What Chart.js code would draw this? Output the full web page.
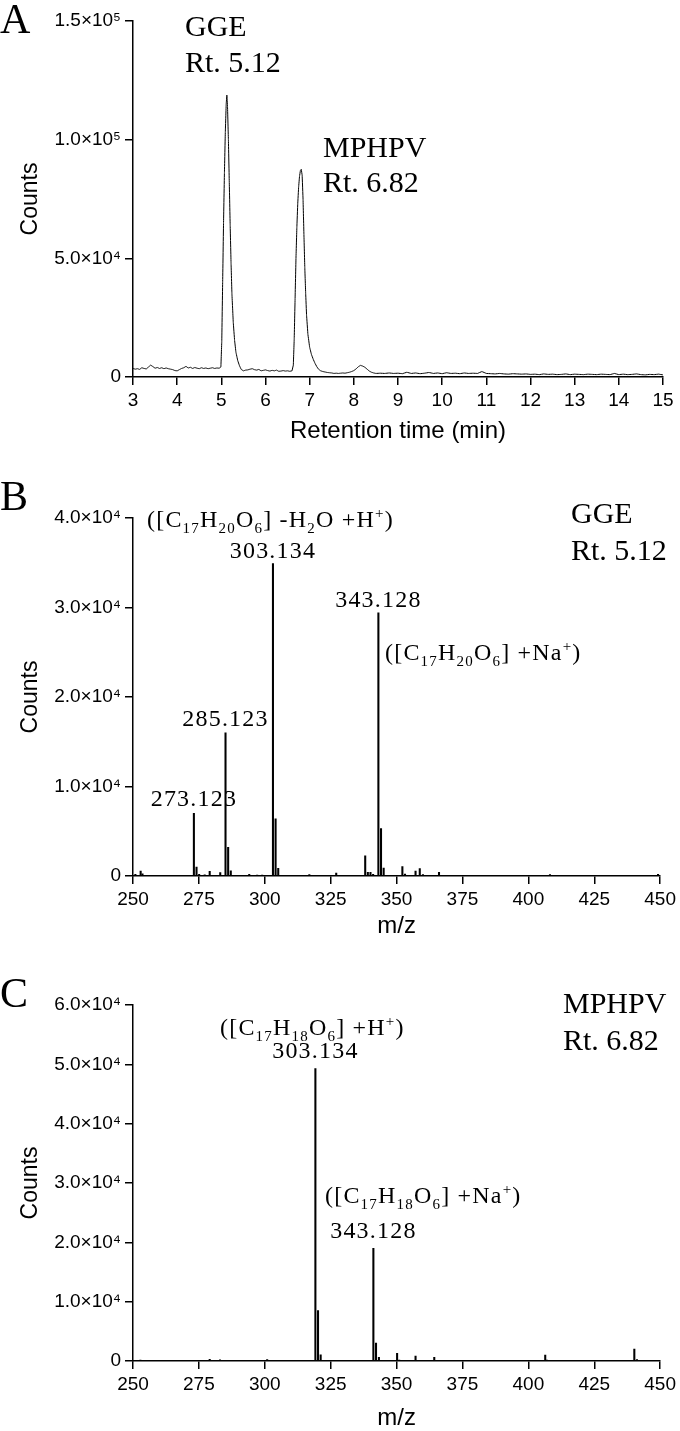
<!DOCTYPE html>
<html>
<head>
<meta charset="utf-8">
<script src="https://cdn.jsdelivr.net/npm/chart.js@4.4.0/dist/chart.umd.min.js"></script>
<style>
  body { margin: 0; background: #fff; width: 680px; height: 1431px; position: relative; overflow: hidden; }
  .panel { position: absolute; left: 0; }
</style>
</head>
<body>
<canvas id="chartA" class="panel" style="top:0" width="680" height="460"></canvas>
<canvas id="chartB" class="panel" style="top:460px" width="680" height="485"></canvas>
<canvas id="chartC" class="panel" style="top:945px" width="680" height="490"></canvas>
<script>
// ---- data ----
// A: total ion chromatogram, [retention time (min), counts]
const chromatogram = [
  [3.00, 3600], [3.05, 3300], [3.10, 3500], [3.15, 3200], [3.20, 3900], [3.25, 3600], [3.30, 3400],
  [3.35, 4200], [3.40, 5000], [3.45, 4400], [3.50, 3700], [3.55, 4000], [3.60, 3600], [3.65, 3900],
  [3.70, 3500], [3.75, 3800], [3.80, 3500], [3.85, 3300], [3.90, 3100], [3.95, 2700], [4.00, 2600],
  [4.05, 3100], [4.10, 3600], [4.15, 3900], [4.20, 4500], [4.25, 3800], [4.30, 4100], [4.35, 3600],
  [4.40, 4000], [4.45, 3700], [4.50, 3500], [4.55, 3900], [4.60, 3600], [4.65, 3800], [4.70, 3500],
  [4.75, 3700], [4.80, 3900], [4.85, 3600], [4.90, 3800], [4.95, 3700], [4.99, 4200],
  [5.01, 15000], [5.03, 40000], [5.05, 65000], [5.07, 86000], [5.09, 103000], [5.11, 115000],
  [5.125, 118800], [5.14, 114000], [5.16, 100000], [5.18, 82000], [5.20, 64000], [5.22, 48000],
  [5.24, 35000], [5.27, 23000], [5.30, 15500], [5.33, 10500], [5.37, 7000], [5.41, 4800],
  [5.45, 3200], [5.50, 2600],
  [5.55, 2900], [5.60, 3000], [5.65, 3300], [5.70, 3500], [5.75, 3100], [5.80, 2900], [5.85, 3200],
  [5.90, 2600], [5.95, 2800], [6.00, 3000], [6.05, 2700], [6.10, 2500], [6.15, 2800], [6.20, 2600],
  [6.25, 2900], [6.30, 2400], [6.35, 2500], [6.40, 2700], [6.45, 2500], [6.50, 2600], [6.55, 2400],
  [6.60, 2600],
  [6.63, 5000], [6.65, 16000], [6.67, 33000], [6.69, 50000], [6.71, 63000], [6.73, 73000],
  [6.75, 80000], [6.77, 84500], [6.79, 87000], [6.81, 87500], [6.83, 85000], [6.85, 75000],
  [6.87, 60000], [6.89, 46000], [6.91, 35000], [6.93, 26000], [6.96, 18000], [7.00, 12500],
  [7.04, 9500], [7.08, 7500], [7.12, 5800], [7.16, 4400], [7.20, 3300], [7.25, 2600],
  [7.30, 2300], [7.35, 2100], [7.40, 1900], [7.45, 1800], [7.50, 1700], [7.55, 1500], [7.60, 1600],
  [7.65, 1500], [7.70, 1600], [7.75, 1700], [7.80, 1600], [7.85, 1800], [7.90, 2000], [7.95, 2300],
  [8.00, 2700], [8.05, 3400], [8.10, 4300], [8.15, 4900], [8.20, 4600], [8.25, 4100], [8.30, 3300],
  [8.35, 2500], [8.40, 2000], [8.45, 1700], [8.50, 1500],
  [8.60, 1600], [8.70, 1500], [8.80, 1700], [8.90, 1500], [9.00, 1600], [9.10, 1400], [9.20, 2000],
  [9.30, 1500], [9.40, 1700], [9.50, 1400], [9.60, 1600], [9.70, 1900], [9.80, 1500], [9.90, 1700],
  [10.00, 1400], [10.10, 1800], [10.20, 1500], [10.30, 1600], [10.40, 1400], [10.50, 1700],
  [10.60, 1500], [10.70, 1600], [10.80, 1500], [10.90, 2300], [11.00, 1500], [11.10, 1400],
  [11.20, 1300], [11.30, 1500], [11.40, 1300], [11.50, 1200], [11.60, 1400], [11.70, 1300],
  [11.80, 1200], [11.90, 1300], [12.00, 1100], [12.10, 1200], [12.20, 1000], [12.30, 1300],
  [12.40, 1100], [12.50, 1200], [12.60, 1000], [12.70, 1100], [12.80, 1300], [12.90, 1000],
  [13.00, 1200], [13.10, 1100], [13.20, 1000], [13.30, 1200], [13.40, 1100], [13.50, 1000],
  [13.60, 1200], [13.70, 1100], [13.80, 1000], [13.90, 1500], [14.00, 1000], [14.10, 1200],
  [14.20, 1000], [14.30, 1100], [14.40, 1300], [14.50, 1000], [14.60, 900], [14.70, 1100],
  [14.80, 1000], [14.90, 1200], [15.00, 900]
];

// B: mass spectrum of GGE (Rt. 5.12), [m/z, counts]
const spectrumGGE = [
  [250.9, 200], [252.9, 560], [253.6, 250], [273.1, 7000], [274.1, 1000], [275.1, 200], [277.2, 120],
  [279.1, 520], [283.1, 380], [285.1, 16000], [286.1, 3200], [287.1, 580], [291.0, 80], [294.1, 180],
  [297.1, 100], [299.0, 100], [303.1, 34900], [304.1, 6400], [305.1, 870], [316.9, 150], [327.1, 320],
  [338.1, 2250], [339.1, 420], [340.1, 420], [341.1, 200], [343.1, 29400], [344.1, 5300], [345.1, 880],
  [352.2, 1050], [353.2, 220], [357.2, 560], [358.8, 830], [360.0, 150], [366.1, 400], [408.2, 150],
  [449.2, 180]
];

// C: mass spectrum of MPHPV (Rt. 6.82), [m/z, counts]
const spectrumMPHPV = [
  [252.8, 150], [277.1, 100], [279.1, 280], [283.0, 200], [288.3, 120], [300.9, 250], [301.8, 100],
  [319.2, 49300], [320.2, 8500], [321.2, 1050], [341.2, 19000], [342.2, 3000], [343.3, 620],
  [350.2, 1300], [351.0, 150], [357.2, 850], [364.3, 620], [406.4, 1000], [407.0, 150],
  [440.2, 2000], [441.2, 250]
];

// tick values
const timeTicks = [3, 4, 5, 6, 7, 8, 9, 10, 11, 12, 13, 14, 15];
const mzTicks = [250, 275, 300, 325, 350, 375, 400, 425, 450];
const countTicksA = [0, 50000, 100000, 150000];
const countTicksB = [0, 10000, 20000, 30000, 40000];
const countTicksC = [0, 10000, 20000, 30000, 40000, 50000, 60000];

const SERIF = '"Liberation Serif", "Times New Roman", serif';
const SANS = '"Liberation Sans", Arial, sans-serif';

const SUP = { '0': '⁰', '1': '¹', '2': '²', '3': '³', '4': '⁴', '5': '⁵', '6': '⁶', '7': '⁷', '8': '⁸', '9': '⁹' };
function sci(v) {
  if (v === 0) return '0';
  const e = Math.floor(Math.log10(v) + 1e-9);
  const m = v / Math.pow(10, e);
  return m.toFixed(1) + '×10' + String(e).split('').map(c => SUP[c]).join('');
}

function axes(o) {
  const grid = { drawOnChartArea: false, drawTicks: true, tickLength: 8, color: '#000', lineWidth: 1.5, offset: false };
  const border = { display: true, color: '#000', width: 1.5 };
  return {
    x: {
      type: 'linear', min: o.xTicks[0], max: o.xTicks[o.xTicks.length - 1], offset: false,
      afterBuildTicks: s => { s.ticks = o.xTicks.map(v => ({ value: v })); },
      afterFit: s => { s.height = o.xHeight; },
      title: { display: true, text: o.xTitle, color: '#000', font: { family: SANS, size: 24 }, padding: { top: 0, bottom: o.xTitlePad } },
      ticks: { color: '#000', font: { family: SANS, size: 19 }, padding: 4, maxRotation: 0, autoSkip: false },
      grid, border
    },
    y: {
      type: 'linear', min: 0, max: o.yTicks[o.yTicks.length - 1],
      afterBuildTicks: s => { s.ticks = o.yTicks.map(v => ({ value: v })); },
      afterFit: s => { s.width = 133; },
      title: { display: true, text: 'Counts', color: '#000', font: { family: SANS, size: 23 }, padding: { top: 17, bottom: 0 } },
      ticks: { color: '#000', font: { family: SANS, size: 19 }, padding: 4, callback: v => sci(v) },
      grid, border
    }
  };
}

// text with sub/superscripts: parts are strings or [text, 'sub'|'sup']
function drawRich(ctx, x, y, parts, size) {
  let cx = x;
  parts.forEach(p => {
    const txt = typeof p === 'string' ? p : p[0];
    const mode = typeof p === 'string' ? '' : p[1];
    const s = mode ? Math.round(size * 0.62) : size;
    const dy = mode === 'sub' ? size * 0.24 : (mode === 'sup' ? -size * 0.36 : 0);
    ctx.font = s + 'px ' + SERIF;
    ctx.fillText(txt, cx, y + dy);
    cx += ctx.measureText(txt).width;
  });
}

function text(ctx, str, x, y, size, align) {
  ctx.font = size + 'px ' + SERIF;
  ctx.textAlign = align || 'left';
  ctx.fillText(str, x, y);
  ctx.textAlign = 'left';
}

// number label centred above a peak of the spectrum
function peakLabel(ctx, chart, spectrum, mz, str, gap) {
  const peak = spectrum.find(p => p[0] === mz);
  const x = chart.scales.x.getPixelForValue(peak[0]);
  const y = chart.scales.y.getPixelForValue(peak[1]) - gap;
  ctx.save();
  ctx.letterSpacing = '1.2px';
  text(ctx, str, x, y, 24, 'center');
  ctx.restore();
}

function notes(draw) {
  return {
    id: 'notes',
    afterDraw(chart) {
      const ctx = chart.ctx;
      ctx.save();
      ctx.fillStyle = '#000';
      ctx.textBaseline = 'alphabetic';
      draw(ctx, chart);
      ctx.restore();
    }
  };
}

const common = {
  responsive: false,
  animation: false,
  plugins: { legend: { display: false }, tooltip: { enabled: false } }
};

// A: chromatogram
new Chart(document.getElementById('chartA'), {
  type: 'line',
  data: {
    datasets: [{
      data: chromatogram.map(p => ({ x: p[0], y: p[1] })),
      // tiny tension keeps lines straight but avoids the min/max fast path
      borderColor: '#000', borderWidth: 1, pointRadius: 0, tension: 0.0001, fill: false
    }]
  },
  options: {
    ...common,
    layout: { padding: { left: 0, right: 17, top: 21, bottom: 0 } },
    scales: axes({ xTicks: timeTicks, yTicks: countTicksA, xHeight: 83, xTitle: 'Retention time (min)', xTitlePad: 14 })
  },
  plugins: [notes((ctx) => {
    text(ctx, 'A', 0, 33, 42);
    text(ctx, 'GGE', 185, 36, 30);
    text(ctx, 'Rt. 5.12', 185, 72, 30);
    text(ctx, 'MPHPV', 323, 157, 30);
    text(ctx, 'Rt. 6.82', 323, 192, 30);
  })]
});

function spectrumChart(id, spectrum, yTicks, top, xHeight, titlePad, draw) {
  return new Chart(document.getElementById(id), {
    type: 'bar',
    data: {
      datasets: [{
        data: spectrum.map(p => ({ x: p[0], y: p[1] })),
        backgroundColor: '#000', borderWidth: 0, barThickness: 1.4
      }]
    },
    options: {
      ...common,
      layout: { padding: { left: 0, right: 17, top: top, bottom: 0 } },
      scales: axes({ xTicks: mzTicks, yTicks: yTicks, xHeight: xHeight, xTitle: 'm/z', xTitlePad: titlePad })
    },
    plugins: [notes(draw)]
  });
}

// B: GGE spectrum
spectrumChart('chartB', spectrumGGE, countTicksB, 58, 69, 4, (ctx, chart) => {
  text(ctx, 'B', 0, 50, 42);
  ctx.letterSpacing = '1.2px';
  drawRich(ctx, 147, 67, ['([C', ['17', 'sub'], 'H', ['20', 'sub'], 'O', ['6', 'sub'], '] -H', ['2', 'sub'], 'O +H', ['+', 'sup'], ')'], 24);
  drawRich(ctx, 385, 200, ['([C', ['17', 'sub'], 'H', ['20', 'sub'], 'O', ['6', 'sub'], '] +Na', ['+', 'sup'], ')'], 24);
  ctx.letterSpacing = '0px';
  text(ctx, 'GGE', 571, 63, 30);
  text(ctx, 'Rt. 5.12', 571, 100, 30);
  peakLabel(ctx, chart, spectrumGGE, 303.1, '303.134', 6);
  peakLabel(ctx, chart, spectrumGGE, 343.1, '343.128', 6);
  peakLabel(ctx, chart, spectrumGGE, 285.1, '285.123', 7);
  peakLabel(ctx, chart, spectrumGGE, 273.1, '273.123', 7);
});

// C: MPHPV spectrum
spectrumChart('chartC', spectrumMPHPV, countTicksC, 60, 74, 2, (ctx, chart) => {
  text(ctx, 'C', 0, 62, 42);
  ctx.letterSpacing = '1.2px';
  drawRich(ctx, 220, 90, ['([C', ['17', 'sub'], 'H', ['18', 'sub'], 'O', ['6', 'sub'], '] +H', ['+', 'sup'], ')'], 24);
  drawRich(ctx, 325, 258, ['([C', ['17', 'sub'], 'H', ['18', 'sub'], 'O', ['6', 'sub'], '] +Na', ['+', 'sup'], ')'], 24);
  ctx.letterSpacing = '0px';
  text(ctx, 'MPHPV', 563, 68, 30);
  text(ctx, 'Rt. 6.82', 563, 105, 30);
  peakLabel(ctx, chart, spectrumMPHPV, 319.2, '303.134', 10);
  peakLabel(ctx, chart, spectrumMPHPV, 341.2, '343.128', 10);
});
</script>
</body>
</html>
